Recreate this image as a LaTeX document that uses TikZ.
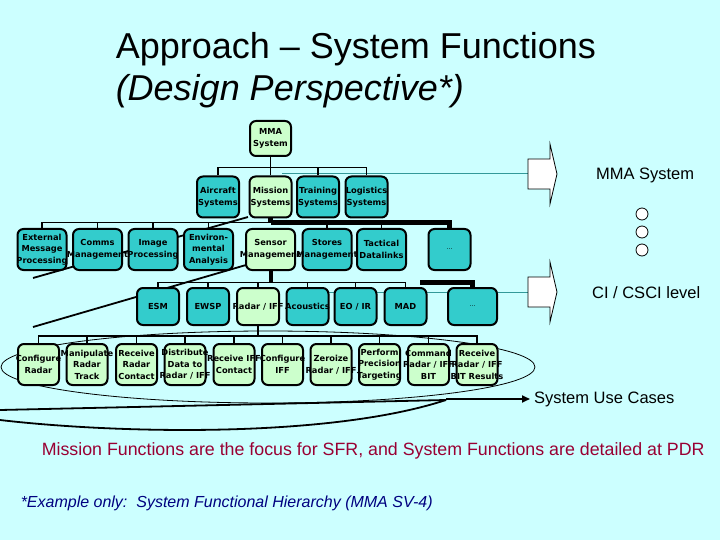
\documentclass[tikz,border=0pt]{standalone}
\usepackage{fontspec}
\setmainfont{Liberation Sans}
\newfontfamily\boxfont{DejaVu Sans}
\usetikzlibrary{arrows.meta}
\definecolor{bgcyan}{RGB}{204,255,255}
\definecolor{tealbox}{RGB}{51,204,204}
\definecolor{greenbox}{RGB}{204,255,204}
\definecolor{tealline}{RGB}{51,153,153}
\definecolor{redtext}{RGB}{153,0,51}
\definecolor{navytext}{RGB}{0,0,128}
\tikzset{every picture/.style={line width=1.5pt}}
\tikzset{
  fbox/.style={draw, line width=2pt, rounded corners=6pt, inner sep=0pt,
    minimum width=42pt, minimum height=41pt},
  tbox/.style={fbox, fill=tealbox},
  gbox/.style={fbox, fill=greenbox},
  wbox/.style={minimum width=49pt},
  boxtext/.style={font=\boxfont\bfseries\fontsize{8.3}{11.5}\selectfont,
    align=center, inner sep=0pt},
  dottext/.style={font=\boxfont\fontsize{6}{7}\selectfont, inner sep=0pt},
  bigarrow/.style={draw, line width=0.8pt, fill=white},
  sidetext/.style={anchor=base west, font=\fontsize{16.5}{20}\selectfont}
}

\begin{document}
\begin{tikzpicture}[x=1pt,y=-1pt]
	\useasboundingbox (0,0) rectangle (720,540);
	\fill[bgcyan] (0,0) rectangle (720,540);
	%Title
	\node[anchor=base west, inner sep=0pt, font=\fontsize{36}{40}\selectfont] (title) at (115,59) {Approach -- System Functions};
	\node[anchor=base west, inner sep=0pt, font=\fontsize{36}{40}\selectfont\itshape] (subtitle) at (115,101) {(Design Perspective*)};
	%Ellipse round the use cases
	\draw[line width=0.8pt] (268,367) ellipse (267 and 36);
	%Lines to the left
	\draw[line width=1.8pt] (248,217) -- (33,278);
	\draw[line width=1.8pt] (246,265) -- (33,327);
	\draw[line width=1.8pt] (0,410) -- (446,400);
	\draw[line width=1.8pt] (0,420) .. controls (120,434) and (330,438) .. (446,400);
	%Teal lines to the arrows
	\draw[tealline, line width=1pt] (282,174) -- (528,174);
	\draw[tealline, line width=1pt] (320,292) -- (528,292);
	%Row 1
	\node[gbox, minimum width=41pt, minimum height=35pt] (mma) at (270.5,138.5) {};
	%Row 2
	\node[tbox] (air) at (218,197) {};
	\node[gbox] (mis) at (270.5,197) {};
	\node[tbox] (trn) at (318,197) {};
	\node[tbox] (lgs) at (366.5,197) {};
	%Row 3
	\node[tbox, wbox] (ext) at (42,249.5) {};
	\node[tbox, wbox] (com) at (97.5,249.5) {};
	\node[tbox, wbox] (img) at (153,249.5) {};
	\node[tbox, wbox] (env) at (208.5,249.5) {};
	\node[gbox, wbox] (sen) at (270.5,249.5) {};
	\node[tbox, wbox] (sto) at (327,249.5) {};
	\node[tbox, wbox] (tac) at (381.5,249.5) {};
	\node[tbox] (dotsA) at (449.5,249.5) {};
	%Row 4
	\node[tbox, minimum height=37pt] (esm) at (158,306.5) {};
	\node[tbox, minimum height=37pt] (ewsp) at (208,306.5) {};
	\node[gbox, minimum height=37pt] (rad) at (258,306.5) {};
	\node[tbox, minimum height=37pt] (aco) at (307.5,306.5) {};
	\node[tbox, minimum height=37pt] (eoir) at (355.5,306.5) {};
	\node[tbox, minimum height=37pt] (mad) at (405.5,306.5) {};
	\node[tbox, wbox, minimum height=37pt] (dotsB) at (472.5,306.5) {};
	%Row 5
	\node[gbox, minimum width=41pt] (ucA) at (38.5,364.5) {};
	\node[gbox, minimum width=41pt] (ucB) at (87,364.5) {};
	\node[gbox, minimum width=41pt] (ucC) at (136.5,364.5) {};
	\node[gbox, minimum width=41pt] (ucD) at (185,364.5) {};
	\node[gbox, minimum width=41pt] (ucE) at (234,364.5) {};
	\node[gbox, minimum width=41pt] (ucF) at (282.5,364.5) {};
	\node[gbox, minimum width=41pt] (ucG) at (331,364.5) {};
	\node[gbox, minimum width=41pt] (ucH) at (379.5,364.5) {};
	\node[gbox, minimum width=41pt] (ucI) at (428.5,364.5) {};
	\node[gbox, minimum width=41pt] (ucJ) at (477,364.5) {};
	%Connectors 1-2
	\draw (mma.south) -- ++(0,10.5) coordinate (busA);
	\draw (air.north) |- (busA);
	\draw (mis.north) -- (mis.north |- busA);
	\draw (trn.north) |- (busA);
	\draw (lgs.north) |- (busA);
	%Connectors 2-3
	\draw[line width=4.5pt] (mis.south) -- ++(0,4) coordinate (busB);
	\draw (ext.north) |- (busB);
	\draw (com.north) |- (busB);
	\draw (img.north) |- (busB);
	\draw (env.north) |- (busB);
	\draw (sto.north) -- (sto.north |- busB);
	\draw (tac.north) -- (tac.north |- busB);
	\draw[line width=4.5pt] (busB) -| (dotsA.north);
	%Connectors 3-4
	\draw[line width=4pt] (sen.south) -- ++(0,11.5) coordinate (busC);
	\draw (esm.north) |- (busC);
	\draw (ewsp.north) |- (busC);
	\draw (rad.north) -- (rad.north |- busC);
	\draw (aco.north) |- (busC);
	\draw (eoir.north) |- (busC);
	\draw (mad.north) |- (busC);
	\draw[line width=4.5pt] (420,282.5) -| (dotsB.north);
	%Connectors 4-5
	\draw (rad.south) -- ++(0,10) coordinate (busD);
	\foreach \n in {ucA,ucB,ucC,ucD,ucE,ucF,ucG,ucH,ucI,ucJ}
		\draw (\n.north) |- (busD);
	%Box texts
	\node[boxtext] (mmaT) at (mma) {MMA\\System};
	\node[boxtext] (airT) at (air) {Aircraft\\Systems};
	\node[boxtext] (misT) at (mis) {Mission\\Systems};
	\node[boxtext] (trnT) at (trn) {Training\\Systems};
	\node[boxtext] (lgsT) at (lgs) {Logistics\\Systems};
	\node[boxtext] (extT) at (ext) {External\\Message\\Processing};
	\node[boxtext] (comT) at (com) {Comms\\Management};
	\node[boxtext] (imgT) at (img) {Image\\Processing};
	\node[boxtext] (envT) at (env) {Environ-\\mental\\Analysis};
	\node[boxtext] (senT) at (sen) {Sensor\\Management};
	\node[boxtext] (stoT) at (sto) {Stores\\Management};
	\node[boxtext] (tacT) at (tac) {Tactical\\Datalinks};
	\node[dottext] (dotsAT) at (dotsA) {\dots};
	\node[boxtext] (esmT) at (esm) {ESM};
	\node[boxtext] (ewspT) at (ewsp) {EWSP};
	\node[boxtext] (radT) at (rad) {Radar / IFF};
	\node[boxtext] (acoT) at (aco) {Acoustics};
	\node[boxtext] (eoirT) at (eoir) {EO / IR};
	\node[boxtext] (madT) at (mad) {MAD};
	\node[dottext] (dotsBT) at (dotsB) {\dots};
	\node[boxtext] (ucAT) at (ucA) {Configure\\Radar};
	\node[boxtext] (ucBT) at (ucB) {Manipulate\\Radar\\Track};
	\node[boxtext] (ucCT) at (ucC) {Receive\\Radar\\Contact};
	\node[boxtext] (ucDT) at (ucD) {Distribute\\Data to\\Radar / IFF};
	\node[boxtext] (ucET) at (ucE) {Receive IFF\\Contact};
	\node[boxtext] (ucFT) at (ucF) {Configure\\IFF};
	\node[boxtext] (ucGT) at (ucG) {Zeroize\\Radar / IFF};
	\node[boxtext] (ucHT) at (ucH) {Perform\\Precision\\Targeting};
	\node[boxtext] (ucIT) at (ucI) {Command\\Radar / IFF\\BIT};
	\node[boxtext] (ucJT) at (ucJ) {Receive\\Radar / IFF\\BIT Results};
	%Block arrows
	\draw[bigarrow] (528,159) -- (550,159) -- (550,144) -- (557,174) -- (550,204) -- (550,189) -- (528,189) -- cycle;
	\draw[bigarrow] (528,277) -- (550,277) -- (550,262) -- (557,292) -- (550,322) -- (550,307) -- (528,307) -- cycle;
	\node[sidetext] (lvlA) at (592,180) {MMA System};
	\node[sidetext] (lvlB) at (588,298) {CI / CSCI level};
	%Circles
	\draw[bigarrow] (642,214) circle (6);
	\draw[bigarrow] (642,232) circle (6);
	\draw[bigarrow] (642,250) circle (6);
	%Use case arrow
	\coordinate (ucTail) at (446,399);
	\node[sidetext] (lvlC) at (530,403) {System Use Cases};
	\draw[line width=1.8pt, -{Triangle[length=8pt,width=7pt]}] (ucTail) -- (lvlC.west |- ucTail);
	%Notes
	\node[anchor=west, inner sep=0pt, text=redtext, font=\fontsize{17.8}{20}\selectfont] (note) at (41,451) {Mission Functions are the focus for SFR, and System Functions are detailed at PDR};
	\node[anchor=west, inner sep=0pt, text=navytext, font=\fontsize{16}{18}\selectfont\itshape] (foot) at (20,503) {*Example only:\ \ System Functional Hierarchy (MMA SV-4)};
\end{tikzpicture}
\end{document}
